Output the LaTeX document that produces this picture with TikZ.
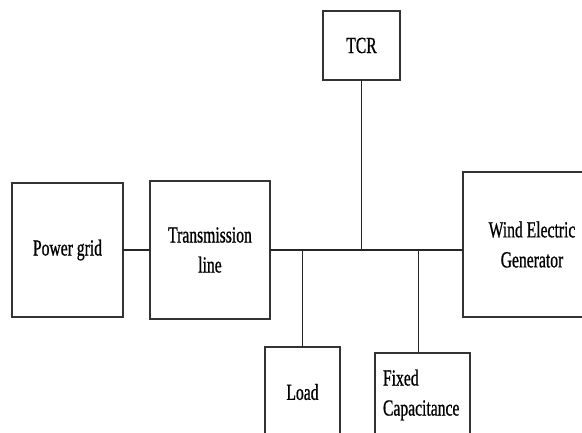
\documentclass[tikz,border=0pt]{standalone}
\usepackage{fontspec}
\setmainfont[FakeStretch=0.68,FakeBold=0.8]{Liberation Serif}

\tikzset{
  block/.style={draw=black!80, line width=1.5bp, inner sep=0pt, outer sep=0pt, align=center,
    font=\fontsize{23bp}{30bp}\selectfont},
  wire/.style={draw=black!85, line width=1.2bp}
}

\begin{document}
\begin{tikzpicture}[x=1bp, y=-1bp]
	\useasboundingbox (0,0) rectangle (582,432);
	\clip (0,0) rectangle (582,432);

	\node[block, minimum width=111bp, minimum height=134bp] (grid) at (67.5,250) {Power grid};
	\node[block, minimum width=120bp, minimum height=138bp] (tline) at (210,250) {Transmission\\line};
	\node[block, minimum width=77bp, minimum height=69bp] (tcr) at (361.5,45.5) {TCR};
	\node[block, minimum width=138bp, minimum height=145bp] (weg) at (532,244.5) {Wind Electric\\Generator};
	\node[block, minimum width=75bp, minimum height=90bp] (load) at (302.5,392) {Load};
	\node[block, align=left, text width=79bp, inner xsep=8bp, minimum height=84bp] (fcap) at (422.5,395) {Fixed\\Capacitance};

	\draw[wire] (grid.east) -- (tline.west);
	\draw[wire] (tline.east) -- (tline.east -| weg.west);
	\draw[wire] (tcr.south) -- (tcr.south |- tline.east);
	\draw[wire] (load.north) -- (load.north |- tline.east);
	\draw[wire] ([xshift=-4pt]fcap.north) -- ([xshift=-4pt]fcap.north |- tline.east);
\end{tikzpicture}
\end{document}
